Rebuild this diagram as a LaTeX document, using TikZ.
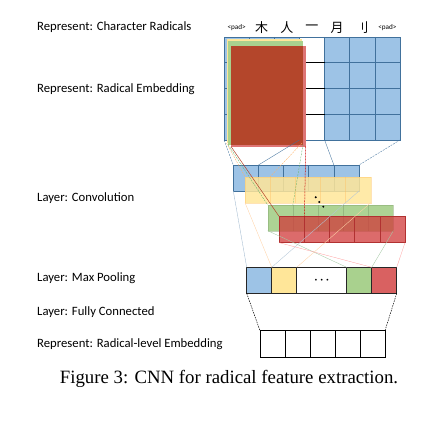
\documentclass[tikz,border=0pt]{standalone}
\usepackage{fontspec}
\setmainfont{Carlito}
\newfontfamily\capfont{Liberation Serif}
\newfontfamily\cjkfont{Noto Sans CJK SC}
\usetikzlibrary{positioning,calc}
\definecolor{cellblue}{HTML}{9DC3E6}
\definecolor{edgeblue}{HTML}{41719C}
\definecolor{cellyellow}{HTML}{FFE699}
\definecolor{cellgreen}{HTML}{A9D18E}
\definecolor{cellred}{HTML}{D03A3A}
\definecolor{darkred}{HTML}{B4462B}
\tikzset{
  layertext/.style={anchor=west, inner sep=0, font=\fontsize{12.7}{14}\selectfont},
  radtext/.style={inner sep=0, font=\cjkfont\fontsize{13}{14}\selectfont},
  padtext/.style={inner sep=0, font=\fontsize{7.2}{8}\selectfont},
  rowbox/.style={anchor=north west, inner sep=0, outer sep=0, minimum width=125.7pt, minimum height=26pt},
  poolcell/.style={draw=black!85, line width=.6pt, inner sep=0, outer sep=0, minimum width=25pt, minimum height=26pt},
  fccell/.style={draw=black, line width=.6pt, anchor=north west, inner sep=0, outer sep=0, minimum width=25pt, minimum height=26.6pt},
  thinline/.style={line width=.35pt}
}
\begin{document}
\begin{tikzpicture}[x=1pt,y=-1pt]
\useasboundingbox (0,0) rectangle (436,428);

% text on the left
\node[layertext] (t1) at (37,27) {Represent: Character Radicals};
\node[layertext] (t2) at (37,89) {Represent: Radical Embedding};
\node[layertext] (t3) at (37,198) {Layer: Convolution};
\node[layertext] (t4) at (37,278) {Layer: Max Pooling};
\node[layertext] (t5) at (37,312.5) {Layer: Fully Connected};
\node[layertext] (t6) at (37,344) {Represent: Radical-level Embedding};

% radicals
\node[padtext] (r0) at (236.6,28) {<pad>};
\node[radtext] (r1) at (261.7,28) {木};
\node[radtext] (r2) at (286.8,28) {人};
\node[radtext] (r3) at (311.9,28) {一};
\node[radtext] (r4) at (337.1,28) {月};
\node[radtext] (r5) at (362.2,28) {刂};
\node[padtext] (r6) at (387.4,28) {<pad>};

% embedding grid
\node[rowbox, fill=cellblue, minimum width=176pt, minimum height=103pt] (radgrid) at (224,37) {};
\fill[white] (299.4,37) rectangle (324.6,140);
\foreach \i in {1,...,6}
  \draw[edgeblue, line width=.6pt] ({224+\i*25.14},37) -- ({224+\i*25.14},140);
\foreach \j in {1,2,3} {
  \draw[edgeblue, line width=.6pt] (224,{37+\j*25.75}) -- (400,{37+\j*25.75});
  \draw[black, line width=.6pt] (299.4,{37+\j*25.75}) -- (324.6,{37+\j*25.75});
}
\draw[edgeblue, line width=.6pt] (radgrid.north west) rectangle (radgrid.south east);

% filter windows
\node[rowbox, fill=cellyellow, minimum width=75.5pt, minimum height=103.5pt] (winy) at (226.5,39.5) {};
\node[rowbox, fill=cellgreen, minimum width=75pt, minimum height=103pt] (wing) at (228,41.5) {};
\node[rowbox, fill=cellred!70, minimum width=74.7pt, minimum height=100.5pt] (winr) at (231,46) {};
\fill[darkred] (231,46) rectangle (302.5,145);

% convolution rows
\node[rowbox, fill=cellblue, draw=edgeblue, line width=.6pt] (convb) at (233.3,165) {};
\foreach \i in {1,...,4}
  \draw[edgeblue, line width=.6pt] ([xshift=\i*25.14pt]convb.north west) -- ([xshift=\i*25.14pt]convb.south west);
\node[rowbox, fill=cellyellow, fill opacity=.85, draw=cellyellow!70!orange, draw opacity=.5] (convy) at (245,176.7) {};
\foreach \i in {1,...,4}
  \draw[cellyellow!60!orange, opacity=.4] ([xshift=\i*25.14pt]convy.north west) -- ([xshift=\i*25.14pt]convy.south west);
\node[rowbox, fill=cellgreen, fill opacity=.95, draw=cellgreen!80!black, draw opacity=.5, minimum height=25.7pt] (convg) at (267.7,205) {};
\foreach \i in {1,...,4}
  \draw[cellgreen!70!black, opacity=.4] ([xshift=\i*25.14pt]convg.north west) -- ([xshift=\i*25.14pt]convg.south west);
\node[rowbox, fill=cellred, fill opacity=.75, draw=cellred!85!black, line width=.6pt] (convr) at (279.3,216.7) {};
\foreach \i in {1,...,4}
  \draw[cellred!85!black, line width=.6pt] ([xshift=\i*25.14pt]convr.north west) -- ([xshift=\i*25.14pt]convr.south west);
\fill (315.7,197.3) circle (1.1) (319.3,202) circle (1.1) (323.3,206.7) circle (1.1);

% window to feature lines
\draw[thinline, edgeblue, dashed, dash pattern=on 2pt off 1pt] (radgrid.south west) -- (convb.north west);
\draw[thinline, edgeblue] ($(radgrid.south west)+(75.4,0)$) -- ([xshift=25.14pt]convb.north west);
\draw[thinline, edgeblue] ($(radgrid.south west)+(100.6,0)$) -- ([xshift=-25.14pt]convb.north east);
\draw[thinline, edgeblue, dashed, dash pattern=on 2pt off 1pt] (radgrid.south east) -- (convb.north east);
\draw[thinline, orange!60, dashed, dash pattern=on 2pt off 1pt] (winy.south west) -- (convy.north west);
\draw[thinline, orange!60, dashed, dash pattern=on 2pt off 1pt] (winy.south east) -- ([xshift=25.14pt]convy.north west);
\draw[thinline, green!50!black!60, dashed, dash pattern=on 2pt off 1pt] (wing.south west) -- (convg.north west);
\draw[thinline, green!50!black!60, dashed, dash pattern=on 2pt off 1pt] (wing.south east) -- ([xshift=25.14pt]convg.north west);
\draw[line width=.5pt, darkred] (winr.south west) -- (convr.north west);
\draw[line width=.5pt, red!80!black, dashed, dash pattern=on 2pt off 1pt] (winr.south east) -- ([xshift=25.14pt]convr.north west);

% max pooling
\node[poolcell, fill=cellblue, anchor=north west] (pb) at (246.7,267.3) {};
\node[poolcell, fill=cellyellow, right=0pt of pb] (py) {};
\node[poolcell, minimum width=50pt, right=0pt of py, font=\fontsize{16}{16}\selectfont] (pdots) {$\cdot\!\cdot\!\cdot$};
\node[poolcell, fill=cellgreen, right=0pt of pdots] (pg) {};
\node[poolcell, fill=cellred!80, right=0pt of pg] (pr) {};

% feature to pooling lines
\draw[thinline, edgeblue!50] (convb.south west) -- (pb.north west);
\draw[thinline, edgeblue!40] (convb.south east) -- (pb.north east);
\draw[thinline, orange!35] (convy.south west) -- (py.north west);
\draw[thinline, orange!35] (convy.south east) -- (py.north east);
\draw[thinline, green!40!black!35] (convg.south west) -- (pg.north west);
\draw[thinline, green!40!black!35] (convg.south east) -- (pg.north east);
\draw[thinline, red!35] (convr.south west) -- (pr.north west);
\draw[thinline, red!35] (convr.south east) -- (pr.north east);

% fully connected
\foreach \i in {1,...,5}
  \node[fccell] (fc\i) at ({260+(\i-1)*25},330.7) {};
\draw[line width=.5pt, dashed, dash pattern=on 1.5pt off 1pt] (pb.south west) -- (fc1.north west);
\draw[line width=.5pt, dashed, dash pattern=on 1.5pt off 1pt] (pr.south east) -- (fc5.north east);

\node[font=\capfont\fontsize{18.8}{20}\selectfont, inner sep=0] (caption) at (229,379) {Figure 3: CNN for radical feature extraction.};
\end{tikzpicture}
\end{document}
